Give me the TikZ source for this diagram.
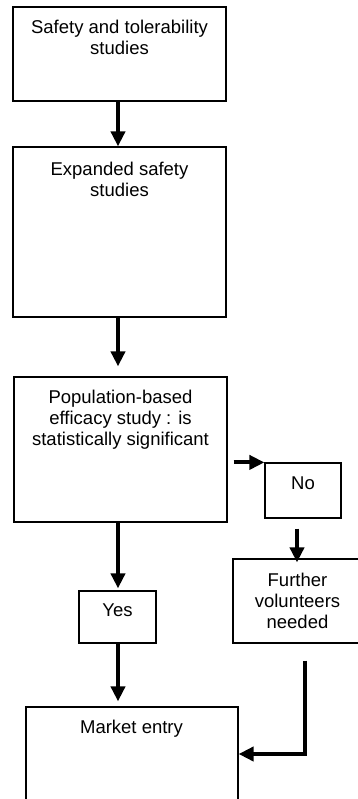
\documentclass[tikz,border=0pt]{standalone}
\usepackage{fontspec}
\setmainfont{Liberation Sans}
\usetikzlibrary{arrows.meta}
\begin{document}
\begin{tikzpicture}[x=1pt,y=-1pt,
  box/.style={draw=black, line width=1.2pt, inner sep=0pt, rectangle},
  txt/.style={font=\fontsize{18.5}{21.2}\selectfont, align=center, inner sep=0pt, anchor=north},
  arr/.style={line width=4pt, -{Triangle[width=14pt,length=15pt]}}]
\useasboundingbox (0,0) rectangle (358,799);
\clip (0,0) rectangle (358,799);
% boxes
\node[box, minimum width=213pt, minimum height=94pt] (b1) at (119.5,54) {};
\node[box, minimum width=213pt, minimum height=170pt] (b2) at (119.5,232) {};
\node[box, minimum width=213pt, minimum height=145pt] (b3) at (120.5,449.5) {};
\node[box, minimum width=76pt, minimum height=55pt] (no) at (303,490.5) {};
\node[box, minimum width=129pt, minimum height=84pt] (fu) at (297.5,601) {};
\node[box, minimum width=77pt, minimum height=52pt] (yes) at (117.5,617) {};
\node[box, minimum width=212pt, minimum height=120pt] (me) at (132,767) {};
% texts
\node[txt] (t1) at (119.5,19.6) {Safety and tolerability\\studies};
\node[txt] (t2) at (119.5,161.6) {Expanded safety\\studies};
\node[txt] (t3) at (120.5,389.4) {Population-based\\efficacy study : is\\statistically significant};
\node[txt] (tno) at (303,476.8) {No};
\node[txt] (tfu) at (297.5,572.8) {Further\\volunteers\\needed};
\node[txt] (tyes) at (117.5,603.8) {Yes};
\node[txt] (tme) at (131.5,719.4) {Market entry};
% helper coordinates
\coordinate (ax) at (118,0);
\coordinate (fx) at (297,0);
\coordinate (rx) at (305,0);
\coordinate (ry) at (0,754);
% connectors
\draw[arr] (b1.south -| ax) -- (b2.north -| ax);
\draw[arr, shorten >=10pt] (b2.south -| ax) -- (b3.north -| ax);
\draw[arr] ([xshift=6pt]b3.east |- no.north) -- (no.north west);
\draw[arr, shorten <=10pt, shorten >=-4pt] (no.south -| fx) -- (fu.north -| fx);
\draw[arr, shorten >=2pt] (b3.south -| ax) -- (yes.north -| ax);
\draw[arr, shorten >=5pt] (yes.south -| ax) -- (me.north -| ax);
\draw[arr, shorten <=17pt] (fu.south -| rx) |- (me.east |- ry);
\end{tikzpicture}
\end{document}
